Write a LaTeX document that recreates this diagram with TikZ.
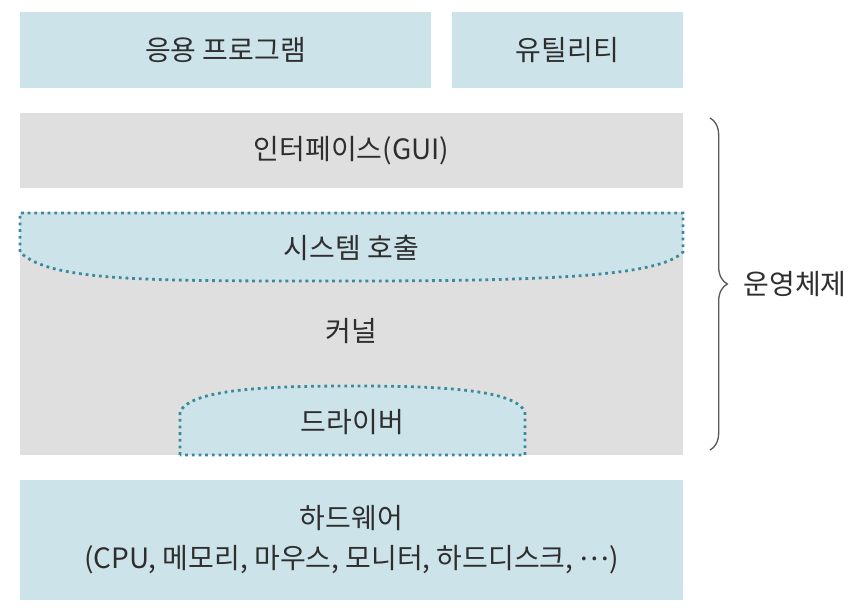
\documentclass[tikz,border=0pt]{standalone}
\usepackage{fontspec}
\setmainfont{Noto Sans CJK KR}
\usepackage{xcolor}
\usepackage{tikz}
\usetikzlibrary{arrows.meta,positioning,decorations.pathreplacing}

\definecolor{layerblue}{HTML}{CDE3EA}
\definecolor{layergray}{HTML}{E0DFE0}
\definecolor{dotteal}{HTML}{3A8C9C}
\definecolor{textgray}{HTML}{2E2E2E}

\begin{document}
\begin{tikzpicture}[
    x=0.75pt, y=-0.75pt,
    font=\fontsize{21}{30}\selectfont, text=textgray,
    bluebox/.style={rectangle, fill=layerblue, inner sep=0pt},
    graybox/.style={rectangle, fill=layergray, inner sep=0pt},
    dotline/.style={draw=dotteal, line width=2.1pt, dash pattern=on 2.1pt off 2.9pt},
    label/.style={inner sep=1pt, align=center}
]
\useasboundingbox (0,0) rectangle (856,616);

% Top row: applications and utilities
\node[bluebox, minimum width=308.25pt, minimum height=57pt] (apps) at (225.5,50) {응용 프로그램};
\node[bluebox, minimum width=173.25pt, minimum height=57pt] (utils) at (567.5,50) {유틸리티};

% Operating system
\node[graybox, minimum width=497.25pt, minimum height=56.25pt] (gui) at (351.5,150.5) {인터페이스(GUI)};
\node[graybox, minimum width=497.25pt, minimum height=182.25pt] (kernelbox) at (351.5,333.5) {};

% System call region
\fill[layerblue] (20,213) -- (683,213) -- (683,252)
    .. controls (660,276) and (550,281) .. (351,281)
    .. controls (150,281) and (50,282) .. (20,252) -- cycle;
\draw[dotline] (20,252) -- (20,213) -- (683,213) -- (683,252)
    .. controls (660,276) and (550,281) .. (351,281)
    .. controls (150,281) and (50,282) .. (20,252);
\node[label] (syscall) at (351.5,248) {시스템 호출};

\node[label] (kernel) at (351.5,331) {커널};

% Driver region
\fill[layerblue] (180,455) -- (180,412)
    .. controls (190,390) and (260,386) .. (352,386)
    .. controls (445,386) and (515,390) .. (525,412) -- (525,455) -- cycle;
\draw[dotline] (180,455) -- (180,412)
    .. controls (190,390) and (260,386) .. (352,386)
    .. controls (445,386) and (515,390) .. (525,412) -- (525,455) -- cycle;
\node[label] (driver) at (352.5,422) {드라이버};

% Hardware
\node[bluebox, minimum width=497.25pt, minimum height=90pt, label] (hw) at (351.5,540) {하드웨어\\(CPU, 메모리, 마우스, 모니터, 하드디스크, \raisebox{0.3em}{…})};

% Brace for the operating system
\coordinate (bracetop) at (710,118);
\coordinate (bracebot) at (710,450);
\draw[gray!70!black, line width=1pt, decorate, decoration={brace, amplitude=13pt}] (bracetop) -- (bracebot);
\node[label, anchor=west] (os) at (742,284) {운영체제};

\end{tikzpicture}
\end{document}
